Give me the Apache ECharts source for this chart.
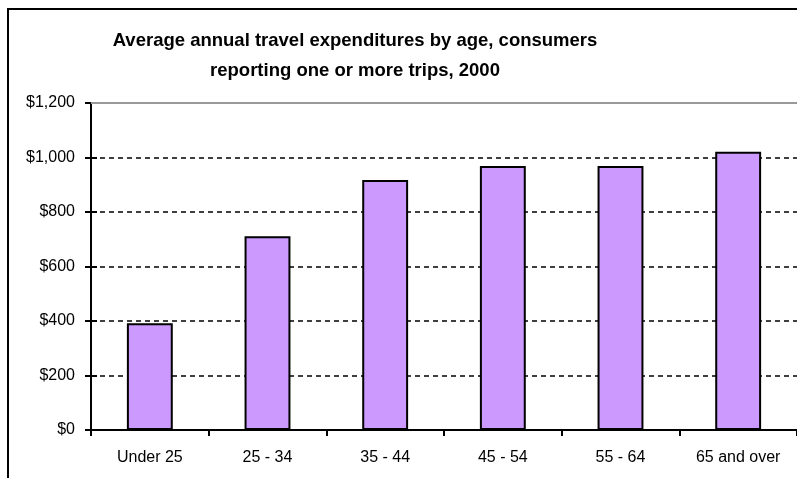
<!DOCTYPE html>
<html>
<head>
<meta charset="utf-8">
<script src="https://cdn.jsdelivr.net/npm/echarts@6/dist/echarts.min.js"></script>
<style>
html,body{margin:0;padding:0;background:#fff;}
#chart{width:797px;height:478px;}
</style>
</head>
<body>
<div id="chart"></div>
<script>
const titleLines = ['Average annual travel expenditures by age, consumers', 'reporting one or more trips, 2000'];
const categories = ['Under 25', '25 - 34', '35 - 44', '45 - 54', '55 - 64', '65 and over'];
const expenditures = [392, 711, 917, 969, 969, 1021];
const yTicks = [0, 200, 400, 600, 800, 1000, 1200];

const chart = echarts.init(document.getElementById('chart'), null, {renderer: 'canvas'});
const fontFam = 'Arial, "Liberation Sans", sans-serif';
const yMax = yTicks[yTicks.length - 1];
const yStep = yTicks[1] - yTicks[0];

chart.setOption({
  animation: false,
  backgroundColor: '#fff',
  graphic: [
    {type: 'polyline', shape: {points: [[8, 478], [8, 9], [797, 9]]}, style: {stroke: '#000', lineWidth: 2, fill: null}, z: 100}
  ],
  title: {
    text: titleLines.join('\n'),
    left: 350,
    textAlign: 'center',
    top: 21,
    textStyle: {fontFamily: fontFam, fontWeight: 'bold', fontSize: 18.5, color: '#000', lineHeight: 30}
  },
  grid: {left: 91, top: 103, width: 710, bottom: 48, containLabel: false},
  xAxis: {
    type: 'category',
    data: categories,
    boundaryGap: true,
    axisLine: {lineStyle: {color: '#000', width: 2}},
    axisTick: {show: true, length: 6, lineStyle: {color: '#000', width: 2}},
    axisLabel: {color: '#000', fontFamily: fontFam, fontSize: 16, margin: 20}
  },
  yAxis: [
    {
      type: 'value', min: 0, max: yMax, interval: yStep,
      axisLine: {show: true, lineStyle: {color: '#000', width: 2}},
      axisTick: {show: true, length: 6, lineStyle: {color: '#000', width: 2}},
      axisLabel: {color: '#000', fontFamily: fontFam, fontSize: 16, margin: 16,
        formatter: v => '$' + v.toLocaleString('en-US')},
      splitLine: {show: true, lineStyle: {color: ['#000','#000','#000','#000','#000','#000','#999'], type: [5, 4], width: 1.5}}
    },
    {
      type: 'value', min: 0, max: yMax, interval: yStep, position: 'left',
      axisLine: {show: false},
      axisTick: {show: true, inside: true, length: 6, lineStyle: {color: '#000', width: 2}},
      axisLabel: {show: false},
      splitLine: {show: false}
    }
  ],
  series: [{
    type: 'bar',
    data: expenditures,
    barWidth: '39%',
    itemStyle: {color: '#CC99FF', borderColor: '#000', borderWidth: 2},
    markLine: {
      silent: true, symbol: 'none', label: {show: false},
      lineStyle: {color: '#999', type: 'solid', width: 2},
      data: [{yAxis: yMax}]
    }
  }]
});
</script>
</body>
</html>
